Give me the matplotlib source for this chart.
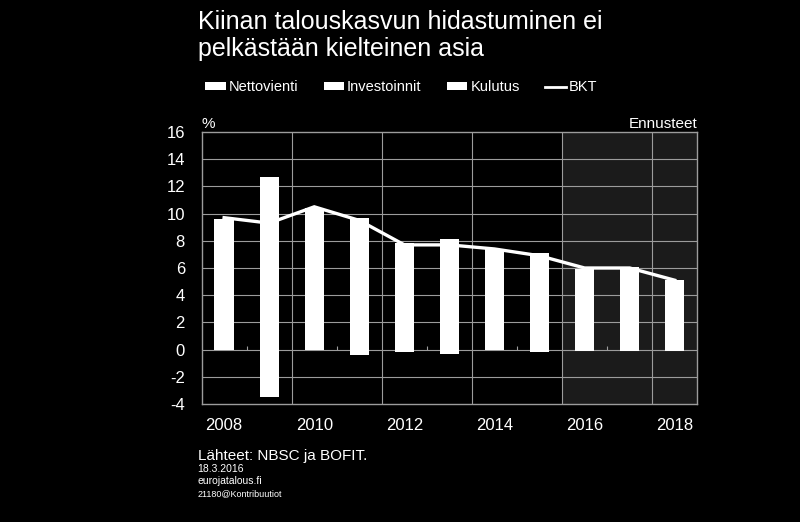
import matplotlib.pyplot as plt
import numpy as np
from matplotlib.patches import Patch
from matplotlib.lines import Line2D

plt.rcParams['font.family'] = ['Liberation Sans', 'DejaVu Sans']
plt.rcParams['axes.unicode_minus'] = False

# Contributions to GDP growth, percentage points
years = np.arange(2008, 2019)
nettovienti = [0.8, -3.5, 0.2, -0.4, -0.15, -0.3, 0.1, -0.2, -0.1, -0.1, -0.1]
investoinnit = [4.4, 8.0, 5.3, 4.7, 3.4, 4.3, 3.4, 2.5, 2.0, 2.0, 1.6]
kulutus = [4.4, 4.7, 4.9, 5.0, 4.45, 3.8, 3.9, 4.6, 3.9, 4.1, 3.5]
bkt = [9.7, 9.3, 10.5, 9.5, 7.7, 7.7, 7.4, 6.9, 6.0, 6.0, 5.1]
forecast_start = 2016

fg = 'white'
grid_col = '#9c9c9c'

fig = plt.figure(figsize=(8, 5.22), dpi=100, facecolor='black')
ax = fig.add_axes([0.252, 0.2261, 0.6196, 0.521])
ax.set_facecolor('black')

net = np.array(nettovienti)
inv = np.array(investoinnit)
con = np.array(kulutus)
w = 0.43

# stack positives upward, negatives downward
pos_base = np.zeros(len(years))
neg_base = np.zeros(len(years))
for vals in (net, inv, con):
    p = np.where(vals > 0, vals, 0)
    n = np.where(vals < 0, vals, 0)
    ax.bar(years, p, w, bottom=pos_base, color=fg, linewidth=0, zorder=3)
    ax.bar(years, n, w, bottom=neg_base, color=fg, linewidth=0, zorder=3)
    pos_base += p
    neg_base += n

ax.plot(years, bkt, color=fg, lw=2.4, zorder=4, solid_joinstyle='miter')

# forecast shading
ax.axvspan(forecast_start - 0.5, years[-1] + 0.5, color='#1b1b1b', zorder=0, lw=0)

ax.set_xlim(years[0] - 0.5, years[-1] + 0.5)
ax.set_ylim(-4, 16)
ax.set_yticks(np.arange(-4, 17, 2))
ax.set_xticks(years[::2])
ax.tick_params(colors=fg, length=0, labelsize=12)
ax.tick_params(axis='y', pad=12)
ax.tick_params(axis='x', pad=10)

for yv in np.arange(-2, 16, 2):
    ax.axhline(yv, color=grid_col, lw=0.8, zorder=1)
for xv in np.arange(years[0] + 1.5, years[-1], 2):
    ax.axvline(xv, color=grid_col, lw=0.8, zorder=1)
# small ticks on zero line
ax.vlines(np.arange(years[0] + 0.5, years[-1], 2), 0, 0.25, color=grid_col, lw=0.8, zorder=2)

for s in ax.spines.values():
    s.set_color(grid_col)
    s.set_linewidth(1.0)

ax.text(0.0, 1.005, '%', transform=ax.transAxes, color=fg, fontsize=11, ha='left', va='bottom')
ax.text(1.0, 1.005, 'Ennusteet', transform=ax.transAxes, color=fg, fontsize=11, ha='right', va='bottom')

# legend
handles = [Patch(facecolor=fg, edgecolor='none', label='Nettovienti'),
           Patch(facecolor=fg, edgecolor='none', label='Investoinnit'),
           Patch(facecolor=fg, edgecolor='none', label='Kulutus'),
           Line2D([0], [0], color=fg, lw=2, label='BKT')]
leg = fig.legend(handles=handles, loc='center left', bbox_to_anchor=(0.24, 0.833), ncol=4,
                 frameon=False, fontsize=10.5, handlelength=1.4, handleheight=0.45,
                 handletextpad=0.2, columnspacing=1.75, labelcolor=fg)

fig.text(0.247, 0.944, 'Kiinan talouskasvun hidastuminen ei', color=fg, fontsize=18, ha='left', va='baseline')
fig.text(0.247, 0.893, 'pelkästään kielteinen asia', color=fg, fontsize=18, ha='left', va='baseline')

fig.text(0.247, 0.119, 'Lähteet: NBSC ja BOFIT.', color=fg, fontsize=11, ha='left', va='baseline')
fig.text(0.247, 0.096, '18.3.2016', color=fg, fontsize=7.5, ha='left', va='baseline')
fig.text(0.247, 0.072, 'eurojatalous.fi', color=fg, fontsize=7.5, ha='left', va='baseline')
fig.text(0.247, 0.050, '21180@Kontribuutiot', color=fg, fontsize=6.5, ha='left', va='baseline')

fig.savefig('out.png', dpi=100, facecolor='black')
